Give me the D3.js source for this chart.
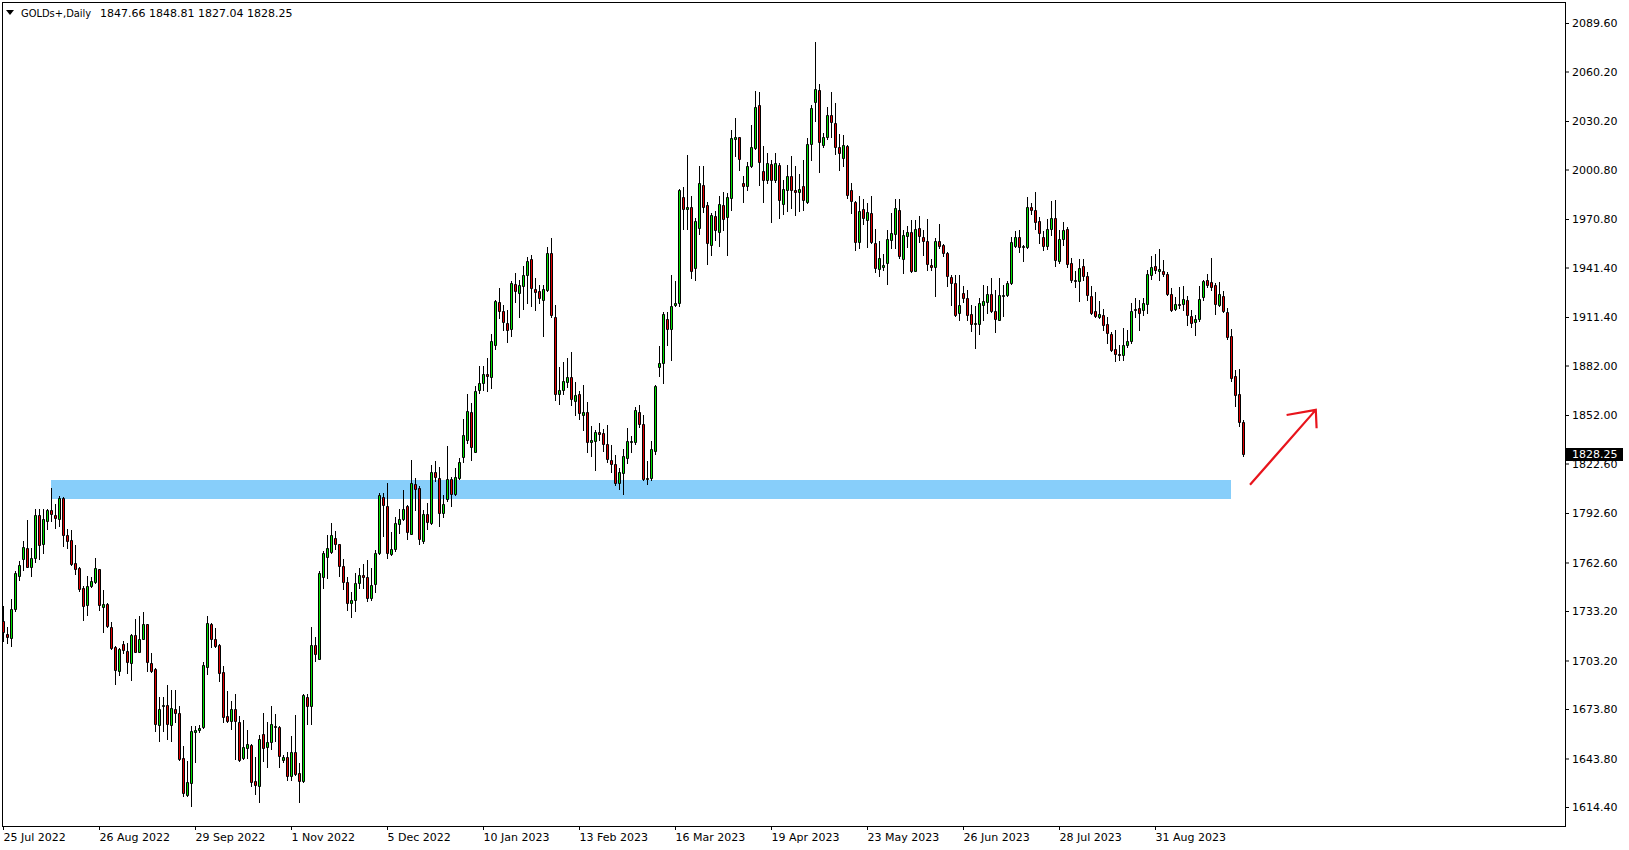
<!DOCTYPE html>
<html>
<head>
<meta charset="utf-8">
<script src="https://cdn.jsdelivr.net/npm/d3@7"></script>
<style>
  html, body { margin: 0; padding: 0; background: #ffffff; }
  svg { display: block; }
  text { font-family: "DejaVu Sans", sans-serif; }
</style>
</head>
<body>
<svg id="chart" width="1629" height="850"></svg>
<script>
// ---------------- DATA ----------------
const symbolTitle = "GOLDs+,Daily";
const lastBarText = ["1847.66", "1848.81", "1827.04", "1828.25"];

const openPrices = [
1727.2,1719.2,1717.1,1734.3,1754.5,1765.0,1771.6,1760.1,1765.2,1791.2,
1773.6,1787.8,1794.2,1791.2,1789.2,1801.9,1779.5,1776.1,1762.1,1759.5,
1747.4,1736.7,1748.4,1750.8,1758.5,1735.7,1737.3,1723.2,1711.1,1697.0,
1713.1,1709.1,1701.4,1718.6,1708.5,1716.5,1725.2,1701.6,1698.0,1664.3,
1675.4,1676.2,1664.3,1673.8,1671.3,1643.9,1621.7,1628.8,1659.6,1661.0,
1662.6,1699.0,1725.2,1716.5,1712.5,1696.4,1669.3,1666.3,1673.8,1666.1,
1643.9,1650.1,1651.9,1630.4,1626.9,1658.6,1650.5,1653.5,1663.7,1662.6,
1643.1,1644.5,1633.4,1647.5,1635.0,1630.4,1681.0,1675.9,1712.5,1704.4,
1754.1,1766.2,1769.0,1777.7,1773.6,1760.5,1751.0,1738.0,1740.0,1750.0,
1755.0,1754.0,1741.0,1749.5,1768.6,1802.5,1796.8,1767.5,1770.6,1785.7,
1789.1,1796.8,1780.1,1809.9,1807.5,1775.6,1791.8,1786.7,1817.6,1813.9,
1792.8,1800.8,1813.4,1803.9,1814.0,1826.7,1836.8,1853.7,1829.7,1867.0,
1871.1,1876.9,1874.9,1894.3,1920.5,1915.3,1907.8,1904.2,1931.4,1926.0,
1930.0,1936.7,1946.5,1928.4,1927.0,1921.5,1928.0,1950.2,1911.4,1864.8,
1867.4,1872.1,1875.1,1860.3,1864.8,1852.3,1853.9,1835.5,1836.1,1841.6,
1841.2,1834.7,1825.0,1822.0,1810.9,1816.6,1826.0,1835.5,1835.5,1853.9,
1846.8,1813.3,1813.9,1830.1,1881.1,1883.5,1910.2,1904.1,1918.9,1919.9,
1984.1,1976.8,1978.0,1941.1,1965.3,1991.6,1979.5,1955.2,1972.8,1962.9,
1979.5,1972.0,1983.5,2019.4,2020.4,1992.6,1990.5,2003.1,2013.8,2039.8,
2000.0,1994.2,2004.3,1994.6,2003.7,1980.1,1988.1,1997.0,1988.5,1986.9,
1990.9,1981.1,2016.2,2042.0,2049.1,2015.4,2020.4,2033.7,2028.9,2014.4,
2007.7,2015.2,1988.5,1981.3,1956.9,1976.8,1970.4,1974.4,1956.2,1940.5,
1941.7,1944.1,1958.3,1961.9,1976.4,1946.6,1960.3,1962.9,1939.5,1965.3,
1959.9,1957.3,1943.1,1941.7,1957.7,1955.2,1950.2,1935.7,1932.0,1913.9,
1926.0,1923.0,1913.5,1907.2,1907.2,1918.9,1920.3,1925.4,1914.9,1909.8,
1924.0,1925.0,1932.0,1954.2,1959.9,1953.6,1953.8,1978.0,1976.4,1969.4,
1959.9,1954.2,1965.0,1971.2,1945.1,1958.6,1964.5,1944.0,1934.0,1933.0,
1942.5,1936.1,1924.3,1914.8,1911.4,1912.8,1907.4,1901.3,1892.3,1889.2,
1888.6,1894.3,1896.7,1915.5,1916.9,1915.5,1919.5,1936.7,1942.1,1939.0,
1939.4,1937.6,1925.5,1916.2,1919.5,1919.3,1921.9,1912.2,1908.1,1910.4,
1923.3,1934.0,1932.4,1931.0,1918.9,1924.3,1914.2,1900.1,1875.9,1865.0,
1847.66];

const highPrices = [
1736.3,1723.2,1740.3,1757.5,1763.5,1775.7,1788.2,1771.6,1795.2,1794.8,
1794.8,1795.2,1807.9,1797.9,1802.9,1802.5,1783.1,1782.3,1773.0,1760.0,
1748.4,1754.5,1754.1,1765.6,1758.9,1746.0,1737.8,1726.8,1711.7,1710.5,
1715.1,1714.1,1719.2,1728.6,1730.3,1732.7,1725.6,1707.7,1698.4,1680.8,
1680.8,1688.3,1685.5,1685.5,1675.8,1651.5,1642.5,1663.7,1663.7,1664.0,
1702.4,1730.3,1726.2,1722.6,1713.1,1700.0,1684.8,1678.8,1682.8,1669.7,
1667.3,1661.2,1652.6,1644.5,1658.0,1671.3,1666.1,1675.4,1670.7,1663.7,
1645.9,1647.5,1657.6,1670.1,1641.0,1682.8,1682.8,1723.2,1717.6,1757.5,
1769.6,1779.1,1786.8,1781.7,1774.0,1764.5,1754.0,1745.0,1756.0,1759.0,
1761.5,1764.0,1759.5,1770.2,1804.5,1804.5,1810.5,1781.1,1790.4,1795.2,
1806.5,1797.5,1824.6,1814.0,1808.9,1794.4,1798.8,1821.4,1824.0,1820.6,
1803.3,1833.5,1814.6,1820.0,1826.1,1849.7,1865.0,1859.4,1869.5,1881.6,
1881.6,1886.6,1901.3,1921.9,1929.0,1918.9,1915.9,1933.0,1938.1,1934.0,
1942.5,1947.8,1949.2,1935.0,1931.0,1931.0,1953.8,1959.3,1918.9,1881.1,
1884.4,1886.6,1890.4,1872.0,1866.8,1870.4,1860.0,1845.6,1843.2,1847.2,
1843.6,1846.2,1834.1,1828.0,1820.0,1831.1,1844.2,1839.2,1856.7,1858.3,
1851.7,1824.0,1836.1,1870.3,1894.0,1914.4,1914.2,1937.0,1933.4,1989.1,
1990.1,2009.7,1984.9,1971.4,2003.1,2003.1,1980.9,1974.4,1975.4,1984.5,
1986.9,1986.5,2024.9,2031.9,2020.8,1996.6,2005.1,2027.9,2048.5,2047.5,
2015.2,2011.1,2006.3,2011.1,2004.7,1994.6,2003.7,2009.1,2003.1,1998.2,
2006.3,2019.8,2040.0,2077.9,2052.7,2022.8,2038.6,2047.9,2041.4,2022.4,
2021.8,2015.8,1992.6,1981.7,1984.5,1982.9,1980.5,1984.9,1964.7,1957.3,
1949.8,1963.9,1974.4,1983.1,1982.9,1963.9,1966.3,1970.4,1970.4,1972.8,
1964.3,1970.8,1946.6,1959.3,1967.9,1955.6,1950.6,1937.1,1937.1,1937.1,
1930.4,1928.0,1918.9,1917.9,1923.0,1931.0,1930.4,1935.1,1928.0,1935.1,
1931.0,1933.1,1959.9,1963.3,1963.9,1955.2,1984.1,1980.5,1987.1,1972.0,
1963.5,1970.5,1982.0,1982.5,1964.3,1969.0,1966.0,1947.0,1939.1,1946.5,
1946.5,1938.5,1930.4,1926.4,1920.9,1916.3,1911.4,1902.1,1903.8,1894.7,
1904.8,1903.8,1919.9,1922.9,1921.9,1922.9,1939.7,1948.2,1949.8,1952.5,
1946.1,1938.6,1928.9,1923.5,1929.5,1930.0,1924.3,1915.8,1912.8,1930.4,
1934.0,1937.6,1947.1,1932.0,1932.4,1927.3,1916.8,1904.1,1879.5,1879.9,
1848.81];

const lowPrices = [
1715.1,1714.1,1711.7,1733.3,1752.0,1758.1,1759.7,1754.5,1762.6,1764.6,
1768.2,1783.1,1787.8,1783.7,1784.7,1772.6,1771.6,1760.9,1755.5,1745.4,
1727.8,1730.7,1748.0,1750.0,1733.9,1720.6,1723.2,1710.1,1688.9,1694.3,
1707.5,1695.9,1691.5,1708.1,1708.1,1716.1,1697.0,1696.4,1660.6,1654.6,
1660.6,1655.6,1654.6,1665.7,1643.1,1621.3,1621.3,1615.2,1641.9,1659.6,
1662.0,1694.9,1711.1,1711.1,1690.9,1665.7,1665.7,1661.6,1643.5,1642.5,
1643.5,1643.9,1627.3,1622.3,1617.6,1642.5,1638.4,1649.5,1654.6,1638.4,
1641.9,1630.9,1630.9,1633.8,1617.2,1629.8,1664.7,1664.7,1702.6,1704.0,
1747.4,1753.5,1768.6,1770.6,1754.5,1746.8,1734.0,1729.5,1733.0,1747.0,
1747.0,1739.0,1740.0,1745.0,1767.5,1778.6,1765.5,1766.9,1769.6,1780.7,
1788.3,1777.0,1779.7,1794.4,1773.6,1774.6,1783.1,1785.7,1811.9,1784.7,
1790.4,1799.8,1796.8,1803.3,1813.0,1823.4,1835.2,1824.7,1829.5,1865.4,
1867.4,1866.4,1868.4,1892.1,1910.8,1903.4,1896.1,1900.1,1920.3,1911.4,
1916.5,1919.9,1917.9,1915.9,1919.9,1900.1,1927.0,1911.4,1861.0,1858.9,
1864.8,1868.8,1858.3,1852.3,1849.8,1842.8,1829.7,1827.0,1818.6,1837.1,
1830.1,1823.4,1817.4,1809.3,1806.9,1804.4,1823.0,1829.5,1834.7,1844.6,
1812.3,1809.9,1812.3,1828.1,1875.9,1871.4,1894.6,1885.2,1917.9,1918.3,
1964.9,1964.9,1935.1,1933.6,1961.9,1974.8,1943.5,1949.0,1958.3,1954.6,
1964.3,1949.2,1976.4,2009.1,2000.6,1980.9,1988.1,2002.3,2013.2,1991.6,
1980.9,1992.6,1968.8,1993.5,1971.4,1973.8,1975.4,1977.4,1973.4,1975.4,
1976.4,1980.5,2006.3,2029.9,1999.0,2014.4,2019.2,2020.8,2010.3,2000.2,
2003.1,1983.5,1974.4,1951.8,1953.4,1967.9,1953.8,1956.2,1938.5,1936.1,
1939.7,1931.4,1953.2,1953.2,1947.2,1938.1,1953.8,1938.8,1939.1,1956.7,
1949.2,1940.1,1939.7,1924.0,1953.2,1948.6,1930.0,1918.5,1911.9,1909.4,
1920.3,1909.8,1902.8,1892.7,1900.8,1909.8,1913.9,1914.5,1902.4,1909.4,
1912.3,1924.0,1931.6,1953.6,1950.6,1945.2,1953.2,1974.0,1964.9,1956.2,
1951.8,1952.6,1961.0,1942.1,1944.0,1955.0,1941.7,1932.4,1929.6,1920.9,
1934.0,1921.9,1913.2,1911.4,1910.8,1903.8,1895.7,1890.6,1884.6,1885.6,
1885.2,1893.3,1895.7,1911.4,1903.8,1912.8,1913.8,1934.4,1938.1,1934.0,
1936.0,1924.9,1914.8,1915.8,1916.8,1915.8,1906.7,1905.3,1900.7,1909.2,
1921.9,1929.3,1927.9,1913.4,1918.2,1914.2,1898.1,1872.4,1857.3,1845.6,
1827.04];

const closePrices = [
1720.2,1717.7,1734.3,1756.1,1761.3,1772.2,1760.1,1765.6,1791.2,1773.2,
1789.2,1794.2,1792.2,1789.8,1801.5,1779.1,1775.7,1761.5,1758.5,1746.4,
1736.3,1748.4,1751.2,1759.1,1736.7,1737.3,1724.2,1710.5,1697.6,1710.1,
1709.7,1702.4,1718.6,1708.5,1716.1,1725.2,1702.4,1697.0,1664.7,1673.8,
1676.2,1664.7,1674.2,1671.3,1643.5,1622.7,1629.8,1660.6,1661.2,1662.5,
1700.4,1726.2,1716.5,1712.1,1695.9,1668.7,1666.3,1673.8,1666.7,1643.1,
1650.5,1652.6,1629.8,1627.7,1655.6,1650.1,1653.5,1664.7,1662.9,1645.5,
1644.5,1633.0,1647.5,1634.4,1630.4,1682.2,1675.9,1712.5,1707.1,1756.1,
1768.2,1771.6,1779.1,1773.6,1760.5,1751.0,1738.0,1740.0,1750.0,1755.0,
1754.0,1741.0,1749.0,1768.6,1803.3,1797.2,1768.6,1771.0,1786.3,1789.1,
1795.2,1781.1,1810.9,1806.9,1776.6,1792.2,1787.1,1817.6,1814.6,1792.4,
1797.8,1813.4,1803.9,1814.6,1823.6,1839.6,1854.3,1832.7,1866.4,1871.5,
1876.9,1875.5,1896.7,1920.9,1914.9,1908.2,1903.4,1932.0,1927.0,1930.6,
1937.1,1945.1,1929.0,1926.4,1922.7,1928.4,1950.2,1912.4,1864.8,1867.4,
1872.9,1875.1,1861.8,1864.0,1853.3,1853.9,1835.5,1836.7,1841.8,1840.2,
1834.7,1825.4,1822.4,1810.9,1817.4,1827.0,1836.5,1836.5,1855.3,1846.8,
1813.3,1813.9,1831.1,1869.8,1883.5,1913.4,1904.1,1918.3,1919.9,1988.5,
1976.8,1978.0,1939.1,1969.4,1992.6,1978.0,1956.2,1973.4,1964.3,1980.1,
1970.8,1984.1,2019.8,2020.2,2007.1,1990.5,2003.1,2014.4,2038.6,2005.3,
1994.6,2004.7,1994.2,2004.7,1982.1,1988.9,1997.0,1988.1,1986.9,1988.9,
1982.1,2016.2,2038.0,2049.5,2017.2,2020.4,2033.7,2029.3,2014.4,2010.7,
2015.4,1985.5,1981.5,1956.9,1975.8,1971.4,1975.0,1956.7,1941.1,1947.2,
1943.1,1958.7,1962.3,1977.4,1948.2,1961.3,1962.9,1939.1,1964.9,1960.3,
1957.3,1943.5,1941.7,1957.7,1954.6,1950.2,1936.1,1932.0,1912.9,1918.9,
1923.0,1912.9,1907.2,1907.8,1919.9,1921.1,1925.4,1915.3,1910.2,1925.0,
1925.0,1932.0,1956.7,1959.9,1953.8,1954.6,1978.0,1976.0,1969.0,1962.3,
1954.2,1965.0,1971.5,1945.7,1958.6,1964.3,1943.7,1933.6,1933.0,1941.1,
1936.1,1924.5,1913.8,1911.8,1913.2,1906.4,1901.7,1891.7,1889.0,1888.6,
1894.7,1897.1,1915.3,1916.3,1913.8,1919.9,1937.7,1941.7,1940.1,1940.6,
1937.6,1925.3,1915.8,1919.3,1918.5,1922.3,1912.8,1907.7,1910.4,1922.3,
1933.4,1930.6,1929.3,1919.3,1925.5,1915.2,1899.3,1874.5,1864.0,1847.6,
1828.25];

const priceTicks = [2089.6, 2060.2, 2030.2, 2000.8, 1970.8, 1941.4, 1911.4, 1882.0,
                    1852.0, 1822.6, 1792.6, 1762.6, 1733.2, 1703.2, 1673.8, 1643.8, 1614.4];
const dateTickBars = [0, 24, 48, 72, 96, 120, 144, 168, 192, 216, 240, 264, 288];
const dateTickLabels = ["25 Jul 2022", "26 Aug 2022", "29 Sep 2022", "1 Nov 2022", "5 Dec 2022",
                        "10 Jan 2023", "13 Feb 2023", "16 Mar 2023", "19 Apr 2023", "23 May 2023",
                        "26 Jun 2023", "28 Jul 2023", "31 Aug 2023"];

// support zone (bar range, price range)
const zoneBars = [12, 307];
const zonePrices = [1800.9, 1812.4];

// hand-drawn arrow: shaft start, tip, left barb end, right barb end
const arrowBars = [311.75, 328.2, 320.9, 328.4];
const arrowPrices = [1809.7, 1855.1, 1852.0, 1844.0];

// ---------------- DRAW ----------------
const svg = d3.select("#chart");
const plot = { left: 2, top: 2, right: 1565, bottom: 826 };

const x = d3.scaleLinear().domain([-0.25, 390.5]).range([plot.left, plot.right]);
const y = d3.scaleLinear().domain([1614.4, 2089.6]).range([807, 23]);

const bullColor = "#00e000";
const bearColor = "#e00000";

svg.append("defs").append("clipPath").attr("id", "plotClip")
  .append("rect")
  .attr("x", plot.left).attr("y", plot.top)
  .attr("width", plot.right - plot.left).attr("height", plot.bottom - plot.top);

const plotG = svg.append("g").attr("clip-path", "url(#plotClip)");

// zone
plotG.append("rect")
  .attr("x", Math.round(x(zoneBars[0])))
  .attr("width", Math.round(x(zoneBars[1])) - Math.round(x(zoneBars[0])))
  .attr("y", Math.round(y(zonePrices[1])))
  .attr("height", Math.round(y(zonePrices[0])) - Math.round(y(zonePrices[1])))
  .attr("fill", "#87CEFA");

const bars = d3.range(openPrices.length).map(i => ({
  i, o: openPrices[i], h: highPrices[i], l: lowPrices[i], c: closePrices[i]
}));

// wicks
plotG.append("g").selectAll("line").data(bars).join("line")
  .attr("x1", d => Math.round(x(d.i)) + 0.5)
  .attr("x2", d => Math.round(x(d.i)) + 0.5)
  .attr("y1", d => Math.round(y(d.h)))
  .attr("y2", d => Math.round(y(d.l)) + 1)
  .attr("stroke", "#000")
  .attr("stroke-width", 1)
  .attr("shape-rendering", "crispEdges");

// bodies
plotG.append("g").selectAll("path").data(bars).join("path")
  .attr("d", d => {
    const xc = Math.round(x(d.i));
    const top = Math.round(y(Math.max(d.o, d.c)));
    const bot = Math.round(y(Math.min(d.o, d.c)));
    return `M${xc - 0.5},${top + 0.5}h2v${bot - top}h-2Z`;
  })
  .attr("fill", d => d.c >= d.o ? bullColor : bearColor)
  .attr("stroke", "#000")
  .attr("stroke-width", 1);

// arrow
const ap = arrowBars.map((b, k) => [x(b), y(arrowPrices[k])]);
plotG.append("path")
  .attr("d", `M${ap[0][0]},${ap[0][1]}L${ap[1][0]},${ap[1][1]}M${ap[2][0]},${ap[2][1]}L${ap[1][0]},${ap[1][1]}L${ap[3][0]},${ap[3][1]}`)
  .attr("fill", "none")
  .attr("stroke", "#e8141c")
  .attr("stroke-width", 2.2)
  .attr("stroke-linejoin", "miter");

// frame
svg.append("rect")
  .attr("x", plot.left + 0.5).attr("y", plot.top + 0.5)
  .attr("width", plot.right - plot.left).attr("height", plot.bottom - plot.top)
  .attr("fill", "none").attr("stroke", "#000").attr("stroke-width", 1);

// y axis
const yAxis = d3.axisRight(y).tickValues(priceTicks).tickFormat(d3.format(".2f"))
  .tickSize(4).tickPadding(3).tickSizeOuter(0);
const yG = svg.append("g").attr("transform", `translate(${plot.right},0)`).call(yAxis);
yG.select(".domain").remove();
yG.attr("font-family", "DejaVu Sans").attr("font-size", 11);
yG.selectAll("text").attr("fill", "#000");
yG.selectAll("line").attr("stroke", "#000");

// x axis
const xAxis = d3.axisBottom(x).tickValues(dateTickBars).tickFormat((d, k) => dateTickLabels[k])
  .tickSize(4).tickPadding(3).tickSizeOuter(0);
const xG = svg.append("g").attr("transform", `translate(0,${plot.bottom})`).call(xAxis);
xG.select(".domain").remove();
xG.attr("font-family", "DejaVu Sans").attr("font-size", 11);
xG.selectAll("text").attr("text-anchor", "start").attr("x", 0).attr("fill", "#000");
xG.selectAll("line").attr("stroke", "#000");

// current price label
const lastClose = closePrices[closePrices.length - 1];
const yc = Math.round(y(lastClose));
svg.append("rect")
  .attr("x", plot.right + 1).attr("y", yc - 6)
  .attr("width", 57).attr("height", 13)
  .attr("fill", "#000");
svg.append("text")
  .attr("x", plot.right + 7).attr("y", yc)
  .attr("dy", "0.36em")
  .attr("font-size", 11)
  .attr("fill", "#fff")
  .text(d3.format(".2f")(lastClose));

// header
svg.append("path").attr("d", "M6,10L14,10L10,15Z").attr("fill", "#000");
svg.append("text")
  .attr("x", 21).attr("y", 17)
  .attr("font-size", 11)
  .style("font-family", "'DejaVu Sans Condensed', 'DejaVu Sans', sans-serif")
  .style("font-stretch", "condensed")
  .attr("fill", "#000")
  .text(symbolTitle);
svg.append("text")
  .attr("x", 100).attr("y", 17)
  .attr("font-size", 11)
  .attr("fill", "#000")
  .text(lastBarText.join(" "));
</script>
</body>
</html>
